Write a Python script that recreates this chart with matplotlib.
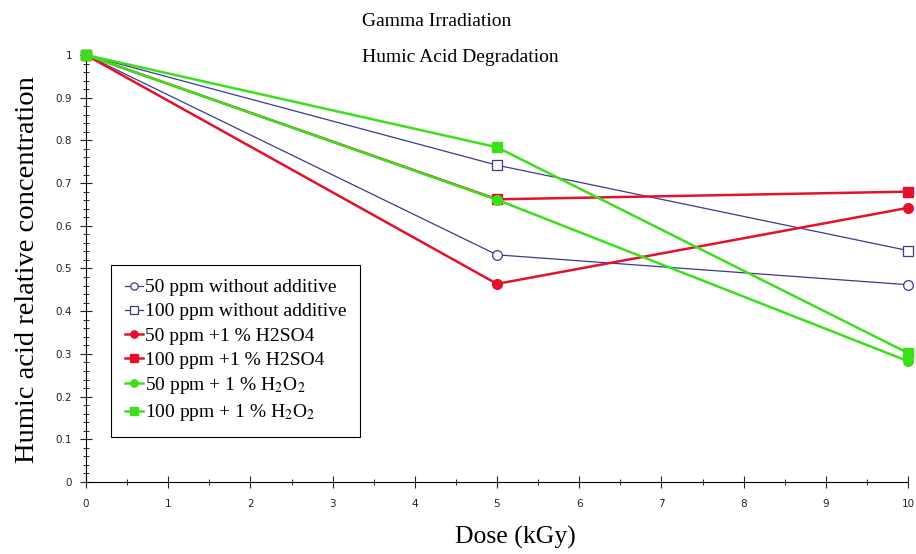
import numpy as np
import matplotlib.pyplot as plt
from matplotlib.ticker import MultipleLocator, FormatStrFormatter

plt.rcParams['mathtext.fontset'] = 'stix'

dose = [0, 5, 10]
ppm50_plain = [1.0, 0.532, 0.462]
ppm100_plain = [1.0, 0.742, 0.542]
ppm50_h2so4 = [1.0, 0.464, 0.642]
ppm100_h2so4 = [1.0, 0.662, 0.680]
ppm50_h2o2 = [1.0, 0.661, 0.283]
ppm100_h2o2 = [1.0, 0.784, 0.302]

labels = ['50 ppm without additive', '100 ppm without additive',
          '50 ppm +1 % H2SO4', '100 ppm +1 % H2SO4',
          r'50 ppm + 1 % H$_2$O$_2$', r'100 ppm + 1 % H$_2$O$_2$']

navy = '#3a3a8e'
red = '#e3122a'
green = '#3be01a'

fig = plt.figure(figsize=(9.16, 5.54), dpi=100)
ax = fig.add_axes([86/916, 1-482/554, (908-86)/916, (482-55)/554])

ax.plot(dose, ppm50_plain, color=navy, lw=0.9, marker='o', ms=7, mfc='white', mec=navy, mew=0.9, label=labels[0], clip_on=False, zorder=3)
ax.plot(dose, ppm100_plain, color=navy, lw=0.9, marker='s', ms=7, mfc='white', mec=navy, mew=0.9, label=labels[1], clip_on=False, zorder=3)
ax.plot(dose, ppm50_h2so4, color=red, lw=1.8, marker='o', ms=7, mfc=red, mec=red, label=labels[2], clip_on=False, zorder=3)
ax.plot(dose, ppm100_h2so4, color=red, lw=1.8, marker='s', ms=7, mfc=red, mec=red, label=labels[3], clip_on=False, zorder=3)
ax.plot(dose, ppm50_h2o2, color=green, lw=1.8, marker='o', ms=7, mfc=green, mec=green, label=labels[4], clip_on=False, zorder=4)
ax.plot(dose, ppm100_h2o2, color=green, lw=1.8, marker='s', ms=7, mfc=green, mec=green, label=labels[5], clip_on=False, zorder=4)

ax.set_xlim(0, 10)
ax.set_ylim(0, 1)
ax.spines['top'].set_visible(False)
ax.spines['right'].set_visible(False)
ax.xaxis.set_major_locator(MultipleLocator(1))
ax.xaxis.set_minor_locator(MultipleLocator(0.5))
ax.yaxis.set_major_locator(MultipleLocator(0.1))
ax.yaxis.set_minor_locator(MultipleLocator(0.02))
ax.yaxis.set_major_formatter(FormatStrFormatter('%g'))
ax.tick_params(which='major', direction='inout', length=8, labelsize=7.5, colors='#222222')
ax.tick_params(which='minor', direction='inout', length=4)
ax.tick_params(axis='x', pad=8)
ax.tick_params(axis='y', pad=6)

fig.text(515/916, 1-537/554, 'Dose (kGy)', family='Liberation Serif', fontsize=18.5, ha='center', va='center')
fig.text(28/916, 1-270/554, 'Humic acid relative concentration', family='Liberation Serif', fontsize=20.5,
         rotation=90, ha='center', va='center')

fig.text(362/916, 1-21/554, 'Gamma Irradiation', family='Liberation Serif', fontsize=14, va='center', ha='left')
fig.text(362/916, 1-58/554, 'Humic Acid Degradation', family='Liberation Serif', fontsize=14, va='center', ha='left')

leg = ax.legend(loc='lower left', bbox_to_anchor=(111/916, 1-437/554), bbox_transform=fig.transFigure,
                prop={'family': 'Liberation Serif', 'size': 14}, fancybox=False, edgecolor='black',
                handlelength=0.95, handletextpad=0.1, labelspacing=0.33, borderaxespad=0, borderpad=0.7,
                markerscale=0.75, framealpha=1)
leg.get_frame().set_linewidth(0.8)

fig.savefig('out.png', dpi=100)
